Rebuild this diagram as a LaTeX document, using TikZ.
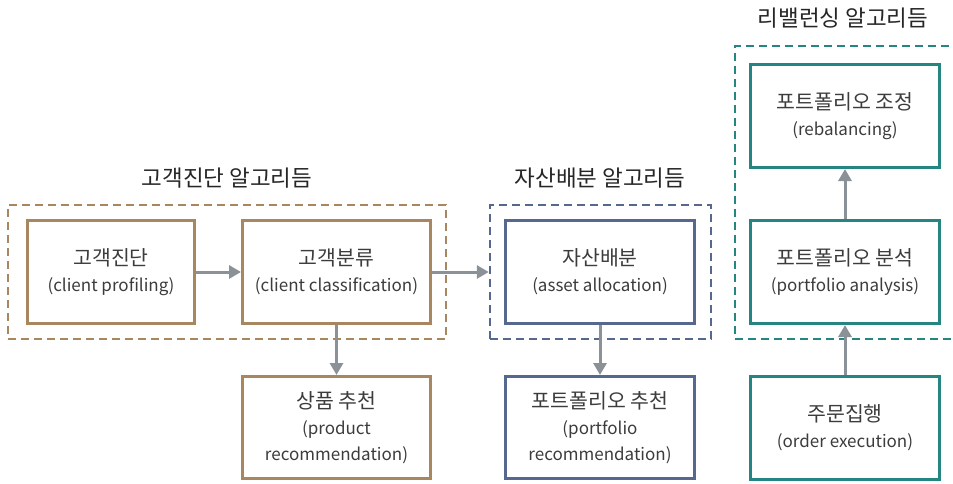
\documentclass[tikz,border=0pt]{standalone}
\usepackage{fontspec}
\setmainfont{Noto Sans CJK KR}
\usetikzlibrary{arrows.meta}
\definecolor{brownc}{HTML}{A8865F}
\definecolor{bluec}{HTML}{56688E}
\definecolor{tealc}{HTML}{258580}
\definecolor{arrowc}{HTML}{8A9298}
\definecolor{textc}{HTML}{3C3C3C}
% Korean headings inside boxes are set a little larger than the Latin glosses
\newcommand{\kor}[1]{{\fontsize{20.5}{26}\selectfont #1}}
\tikzset{
  box/.style={draw, line width=3pt, fill=white, align=center, text=textc,
    font=\fontsize{17}{26}\selectfont, inner sep=0pt},
  wide/.style={minimum width=189pt, minimum height=103pt},
  group/.style={draw, dash pattern=on 8pt off 5pt, line width=2.5pt, inner sep=0pt},
  grouptitle/.style={text=black!85, font=\fontsize{22.5}{26}\selectfont},
  flow/.style={draw=arrowc, line width=3pt, -{Triangle[length=12pt,width=13pt]}},
}
\begin{document}
\begin{tikzpicture}[x=1pt,y=-1pt]
\useasboundingbox (0,0) rectangle (953,483);
\clip (0,0) rectangle (953,483);

% dashed group frames
\node[group, draw=brownc, minimum width=438pt, minimum height=134pt] (g1) at (227,272) {};
\node[group, draw=bluec, minimum width=221pt, minimum height=134pt] (g2) at (600.5,272) {};
\node[group, draw=tealc, minimum width=240pt, minimum height=293pt] (g3) at (855,192.5) {};

% group titles
\node[grouptitle] (t1) at (227,178) {고객진단 알고리듬};
\node[grouptitle] (t2) at (600,178) {자산배분 알고리듬};
\node[grouptitle] (t3) at (843,18) {리밸런싱 알고리듬};

% client algorithm
\node[box, draw=brownc, minimum width=167pt, minimum height=103pt] (cp) at (111,272)
  {\kor{고객진단}\\(client profiling)};
\node[box, draw=brownc, minimum width=188pt, minimum height=103pt] (cc) at (336.5,272)
  {\kor{고객분류}\\(client classification)};
\node[box, draw=brownc, minimum width=188pt, minimum height=102pt] (pr) at (336.5,427.5)
  {\kor{상품 추천}\\(product\\recommendation)};

% asset allocation
\node[box, draw=bluec, wide] (aa) at (600,272)
  {\kor{자산배분}\\(asset allocation)};
\node[box, draw=bluec, minimum width=189pt, minimum height=102pt] (pf) at (600,427.5)
  {\kor{포트폴리오 추천}\\(portfolio\\recommendation)};

% rebalancing
\node[box, draw=tealc, wide] (rb) at (845,116)
  {\kor{포트폴리오 조정}\\(rebalancing)};
\node[box, draw=tealc, wide] (pa) at (845,272)
  {\kor{포트폴리오 분석}\\(portfolio analysis)};
\node[box, draw=tealc, wide] (oe) at (845,428)
  {\kor{주문집행}\\(order execution)};

% connectors
\draw[flow] (cp.east) -- (cc.west);
\draw[flow] (cc.east) -- (g2.west |- cc.east);
\draw[flow] (cc.south) -- (pr.north);
\draw[flow] (aa.south) -- (pf.north);
\draw[flow] (oe.north) -- (pa.south);
\draw[flow] (pa.north) -- (rb.south);
\end{tikzpicture}
\end{document}
